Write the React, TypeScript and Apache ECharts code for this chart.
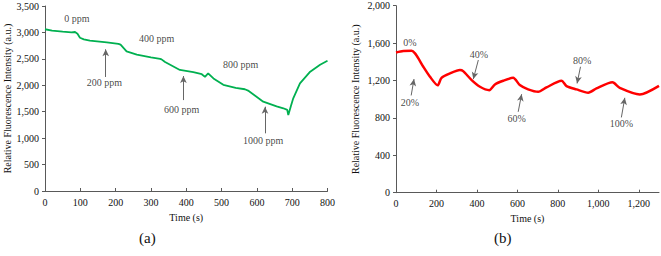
import React, { useEffect, useRef } from "react";
import * as echarts from "echarts";

// Panel (a): NH3 concentration steps
const timeA = [0, 20, 50, 75, 85, 92, 99, 110, 127, 175, 208, 214, 231, 260, 300, 326, 330, 340, 382, 420, 444, 453, 462, 477, 505, 540, 566, 575, 618, 656, 675, 686, 689, 696, 703, 722, 751, 779, 800];
const valueA = [3060, 3035, 3015, 3000, 3008, 2975, 2900, 2870, 2845, 2813, 2785, 2770, 2640, 2580, 2530, 2500, 2490, 2440, 2290, 2250, 2210, 2160, 2226, 2130, 2010, 1950, 1925, 1900, 1690, 1600, 1565, 1535, 1438, 1600, 1754, 2037, 2257, 2390, 2465];

// Panel (b): humidity steps
const timeB = [0, 36, 77, 94, 115, 135, 168, 206, 225, 267, 316, 332, 374, 415, 461, 489, 530, 579, 612, 653, 703, 744, 818, 843, 892, 950, 991, 1070, 1106, 1205, 1300];
const valueB = [1500, 1515, 1518, 1490, 1420, 1347, 1240, 1148, 1229, 1276, 1312, 1300, 1204, 1133, 1097, 1158, 1197, 1229, 1151, 1105, 1079, 1126, 1197, 1140, 1105, 1069, 1115, 1180, 1122, 1051, 1143];

// Annotations: [x, y, text]
const labelsA: [number, number, string][] = [
  [90, 3267, "0 ppm"],
  [316, 2889, "400 ppm"],
  [554, 2384, "800 ppm"],
  [168, 2056, "200 ppm"],
  [387, 1546, "600 ppm"],
  [618, 951, "1000 ppm"],
];
const arrowsA: [number, number, number, number][] = [
  [172, 2157, 172, 2680],
  [392, 1720, 392, 2175],
  [623, 1091, 623, 1595],
];
const labelsB: [number, number, string][] = [
  [69, 1608, "0%"],
  [69, 966, "20%"],
  [410, 1483, "40%"],
  [596, 794, "60%"],
  [920, 1411, "80%"],
  [1114, 741, "100%"],
];
const arrowsB: [number, number, number, number][] = [
  [75, 1040, 89, 1215],
  [407, 1419, 382, 1215],
  [604, 865, 621, 1054],
  [912, 1347, 895, 1169],
  [1114, 805, 1131, 1015],
];

const xTicksB = [0, 200, 400, 600, 800, 1000, 1200];

const FONT = "'Liberation Serif', 'Times New Roman', 'DejaVu Serif', serif";
const AXIS_COLOR = "#595959";
const TEXT_COLOR = "#111";

function zip(a: number[], b: number[]) {
  return a.map((v, i) => [v, b[i]]);
}

function xAxisCfg(gridIndex: number, max: number, interval: number, extra: any = {}) {
  return {
    type: "value",
    gridIndex,
    min: 0,
    max,
    interval,
    name: "Time (s)",
    nameLocation: "middle",
    nameGap: 21,
    nameTextStyle: { fontFamily: FONT, fontSize: 10, color: TEXT_COLOR },
    axisLine: { show: true, lineStyle: { color: AXIS_COLOR, width: 1 } },
    axisTick: { show: true, inside: true, length: 3, lineStyle: { color: AXIS_COLOR }, ...(extra.tick || {}) },
    axisLabel: {
      margin: 6,
      fontFamily: FONT,
      fontSize: 10,
      color: TEXT_COLOR,
      formatter: (v: number) => v.toLocaleString("en-US"),
      ...(extra.label || {}),
    },
    splitLine: { show: false },
  };
}

function yAxisCfg(gridIndex: number, max: number, interval: number, nameGap: number) {
  return {
    type: "value",
    gridIndex,
    min: 0,
    max,
    interval,
    name: "Relative Fluorescence Intensity (a.u.)",
    nameLocation: "middle",
    nameGap,
    nameTextStyle: { fontFamily: FONT, fontSize: 10, color: TEXT_COLOR },
    axisLine: { show: true, lineStyle: { color: AXIS_COLOR, width: 1 } },
    axisTick: { show: true, inside: false, length: 3, lineStyle: { color: AXIS_COLOR } },
    axisLabel: {
      margin: 6,
      fontFamily: FONT,
      fontSize: 10,
      color: TEXT_COLOR,
      formatter: (v: number) => v.toLocaleString("en-US"),
    },
    splitLine: { show: false },
  };
}

function arrowMarkLine(arrows: [number, number, number, number][]) {
  return {
    silent: true,
    symbol: ["none", "arrow"],
    symbolSize: [5, 7],
    label: { show: false },
    lineStyle: { color: "#666", width: 1, type: "solid" },
    emphasis: { disabled: true },
    data: arrows.map(([x1, y1, x2, y2]) => [{ coord: [x1, y1] }, { coord: [x2, y2] }]),
  };
}

function labelSeries(idx: number, labels: [number, number, string][]) {
  return {
    type: "scatter",
    xAxisIndex: idx,
    yAxisIndex: idx,
    symbolSize: 0,
    silent: true,
    data: labels.map(([x, y, t]) => ({ value: [x, y], name: t })),
    label: {
      show: true,
      position: "inside",
      formatter: (p: any) => p.name,
      fontFamily: FONT,
      fontSize: 10,
      color: TEXT_COLOR,
    },
  };
}

export default function App() {
  const ref = useRef<HTMLDivElement>(null);
  useEffect(() => {
    if (!ref.current) return;
    const chart = echarts.init(ref.current, undefined, { renderer: "svg" });
    chart.setOption({
      animation: false,
      backgroundColor: "#fff",
      textStyle: { fontFamily: FONT },
      grid: [
        { left: 45, top: 6, width: 282.5, height: 185 },
        { left: 396, top: 5.7, width: 263, height: 187 },
      ],
      xAxis: [
        xAxisCfg(0, 800, 100),
        xAxisCfg(1, 1300, 200, {
          tick: { customValues: xTicksB },
          label: { customValues: xTicksB },
        }),
      ],
      yAxis: [yAxisCfg(0, 3500, 500, 30), yAxisCfg(1, 2000, 400, 36)],
      series: [
        {
          type: "line",
          xAxisIndex: 0,
          yAxisIndex: 0,
          data: zip(timeA, valueA),
          showSymbol: false,
          symbol: "none",
          lineStyle: { color: "#00b050", width: 1.8 },
          markLine: arrowMarkLine(arrowsA),
        },
        {
          type: "line",
          xAxisIndex: 1,
          yAxisIndex: 1,
          data: zip(timeB, valueB),
          showSymbol: false,
          symbol: "none",
          smooth: 0.25,
          lineStyle: { color: "#ff0000", width: 2.5 },
          markLine: arrowMarkLine(arrowsB),
        },
        labelSeries(0, labelsA),
        labelSeries(1, labelsB),
      ],
      graphic: [
        { type: "text", left: 139, top: 230, style: { text: "(a)", fontFamily: FONT, fontSize: 15, fill: TEXT_COLOR } },
        { type: "text", left: 494, top: 230, style: { text: "(b)", fontFamily: FONT, fontSize: 15, fill: TEXT_COLOR } },
      ],
    });
    return () => chart.dispose();
  }, []);
  return (
    <div
      ref={ref}
      style={{ position: "fixed", left: 0, top: 0, width: 661, height: 256, background: "#fff" }}
    />
  );
}
